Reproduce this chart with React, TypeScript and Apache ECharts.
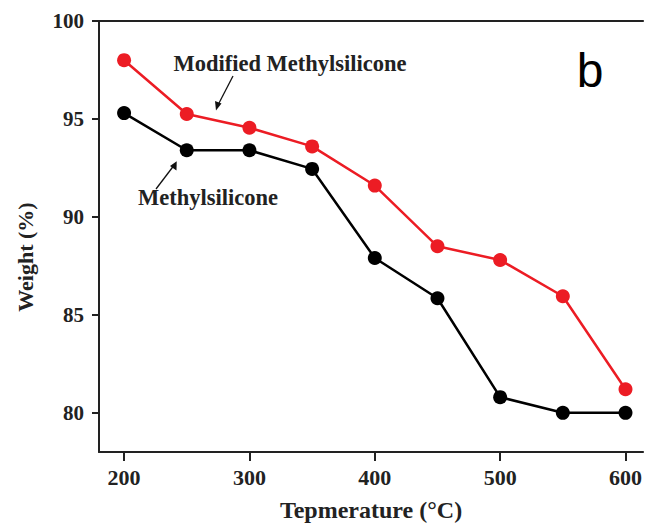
import React, { useEffect, useRef } from "react";
import * as echarts from "echarts";

const temperatures = [200, 250, 300, 350, 400, 450, 500, 550, 600];
const modifiedWeight = [98.0, 95.25, 94.55, 93.6, 91.6, 88.5, 87.8, 85.95, 81.2];
const plainWeight = [95.3, 93.4, 93.4, 92.45, 87.9, 85.85, 80.8, 80.0, 80.0];
const xTicks = [200, 300, 400, 500, 600];
const yTicks = [80, 85, 90, 95, 100];
const seriesNames = ["Methylsilicone", "Modified Methylsilicone"];

const SERIF = "'Liberation Serif', 'DejaVu Serif', serif";

export default function App() {
  const ref = useRef<HTMLDivElement>(null);
  useEffect(() => {
    if (!ref.current) return;
    const chart = echarts.init(ref.current, null, { renderer: "svg" });
    const axisLine = { show: true, lineStyle: { color: "#222", width: 2 } };
    chart.setOption({
      animation: false,
      backgroundColor: "#fff",
      grid: { left: 99, top: 21, right: 0, bottom: 70 },
      xAxis: [
        {
          type: "value",
          min: 180,
          max: 614,
          name: "Tepmerature (\u00B0C)",
          nameLocation: "middle",
          nameGap: 46,
          nameTextStyle: { fontFamily: SERIF, fontWeight: "bold", fontSize: 24, color: "#222" },
          axisLine,
          axisTick: { show: true, customValues: xTicks, length: 9, lineStyle: { color: "#222", width: 2 } },
          axisLabel: { customValues: xTicks, margin: 14, fontFamily: SERIF, fontWeight: "bold", fontSize: 22, color: "#222" },
          splitLine: { show: false },
        },
        {
          type: "value",
          position: "top",
          min: 180,
          max: 614,
          axisLine,
          axisTick: { show: false },
          axisLabel: { show: false },
          splitLine: { show: false },
        },
      ],
      yAxis: {
        type: "value",
        min: 78,
        max: 100,
        axisLine,
        axisTick: { show: true, customValues: yTicks, length: 7, lineStyle: { color: "#222", width: 2 } },
        axisLabel: { customValues: yTicks, margin: 15, fontFamily: SERIF, fontWeight: "bold", fontSize: 21, color: "#222" },
        splitLine: { show: false },
      },
      series: [
        {
          name: seriesNames[0],
          type: "line",
          data: temperatures.map((t, i) => [t, plainWeight[i]]),
          symbol: "circle",
          symbolSize: 14,
          itemStyle: { color: "#000" },
          lineStyle: { color: "#000", width: 2.5 },
        },
        {
          name: seriesNames[1],
          type: "line",
          data: temperatures.map((t, i) => [t, modifiedWeight[i]]),
          symbol: "circle",
          symbolSize: 14,
          itemStyle: { color: "#ec1c24" },
          lineStyle: { color: "#ec1c24", width: 2.5 },
        },
      ],
      graphic: [
        {
          type: "text",
          x: 25,
          y: 257,
          rotation: Math.PI / 2,
          style: {
            text: "Weight (%)",
            font: `bold 22px ${SERIF}`,
            fill: "#222",
            align: "center",
            verticalAlign: "middle",
          },
        },
        {
          type: "text",
          x: 290,
          y: 63,
          style: {
            text: seriesNames[1],
            font: `bold 22.5px ${SERIF}`,
            fill: "#222",
            align: "center",
            verticalAlign: "middle",
          },
        },
        {
          type: "text",
          x: 208,
          y: 197,
          style: {
            text: seriesNames[0],
            font: `bold 22.5px ${SERIF}`,
            fill: "#222",
            align: "center",
            verticalAlign: "middle",
          },
        },
        {
          type: "text",
          x: 590,
          y: 70,
          style: {
            text: "b",
            font: "48px 'Liberation Sans', Arial, sans-serif",
            fill: "#000",
            align: "center",
            verticalAlign: "middle",
          },
        },
        {
          type: "line",
          shape: { x1: 233, y1: 76, x2: 218, y2: 105 },
          style: { stroke: "#111", lineWidth: 1.3 },
        },
        {
          type: "polygon",
          shape: { points: [[216, 110.5], [215, 101], [221.5, 103.5]] },
          style: { fill: "#111" },
        },
        {
          type: "line",
          shape: { x1: 156, y1: 189, x2: 173.5, y2: 166 },
          style: { stroke: "#111", lineWidth: 1.3 },
        },
        {
          type: "polygon",
          shape: { points: [[176.7, 161.2], [176.5, 170.5], [170, 166]] },
          style: { fill: "#111" },
        },
      ],
    });
    return () => chart.dispose();
  }, []);
  return (
    <div
      ref={ref}
      style={{ position: "fixed", left: 0, top: 0, width: 645, height: 527 }}
    />
  );
}
